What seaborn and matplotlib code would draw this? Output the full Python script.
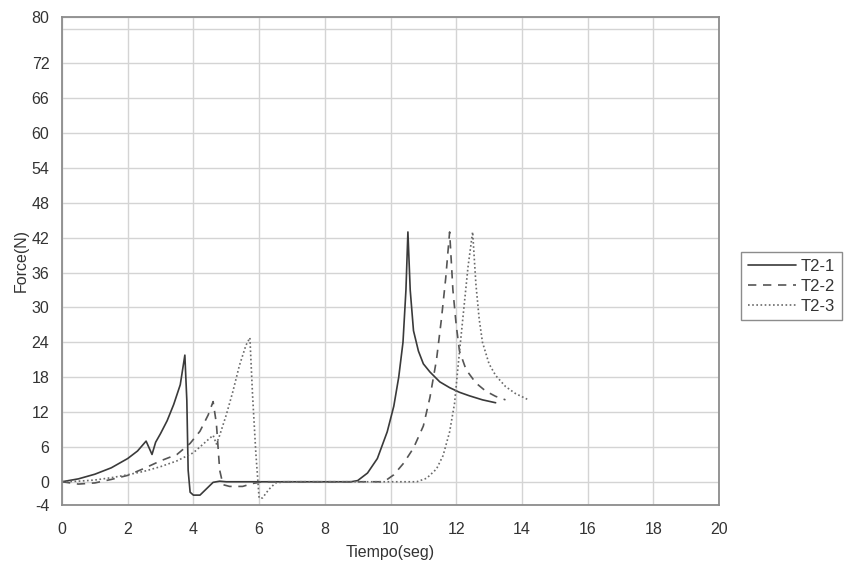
import numpy as np
import pandas as pd
import matplotlib
matplotlib.use("Agg")
import matplotlib.pyplot as plt
import seaborn as sns

# ---- data ----
t1_x = [0, 0.5, 1.0, 1.5, 2.0, 2.3, 2.56, 2.74, 2.85, 3.0, 3.2, 3.4, 3.6, 3.74,
        3.8, 3.84, 3.9, 4.0, 4.2, 4.4, 4.6, 4.8, 5.0, 6, 7, 8, 8.8, 9.0, 9.3,
        9.6, 9.9, 10.1, 10.25, 10.38, 10.47, 10.53, 10.6, 10.7, 10.85, 11.0,
        11.2, 11.5, 11.8, 12.1, 12.4, 12.8, 13.2]
t1_y = [0, 0.5, 1.3, 2.4, 4.0, 5.3, 7.0, 4.7, 6.8, 8.3, 10.5, 13.3, 16.7, 21.8,
        14, 2, -1.8, -2.3, -2.3, -1.2, -0.1, 0.1, 0, 0, 0, 0, 0, 0.2, 1.5,
        4, 8.6, 13, 18, 24, 33, 43, 33, 26, 22.5, 20.3,
        18.9, 17.2, 16.2, 15.4, 14.8, 14.1, 13.6]

t2_x = [0, 0.5, 1.0, 1.5, 2.0, 2.5, 3.0, 3.5, 3.9, 4.2, 4.45, 4.6, 4.7, 4.8,
        4.9, 5.1, 5.5, 5.8, 6.1, 7, 8, 9, 9.8, 10.1, 10.4, 10.7, 11.0, 11.2,
        11.4, 11.55, 11.68, 11.8, 11.9, 12.0, 12.1, 12.3, 12.6, 12.9, 13.2, 13.5]
t2_y = [0, -0.4, -0.2, 0.4, 1.1, 2.3, 3.6, 4.7, 6.6, 8.7, 11.5, 13.8, 10, 2,
        -0.5, -0.8, -0.8, -0.3, 0, 0, 0, 0, 0, 1.2, 3.2, 5.8, 9.6, 14.5,
        21, 28, 35, 43, 33, 27, 22.5, 19.3, 17, 15.6, 14.7, 14.1]

t3_x = [0, 0.5, 1.0, 1.5, 2.0, 2.5, 3.0, 3.5, 4.0, 4.5, 4.6, 4.7, 4.8, 5.0,
        5.2, 5.4, 5.6, 5.72, 5.8, 5.9, 6.0, 6.1, 6.3, 6.5, 6.8, 8, 9, 10, 10.8,
        11.1, 11.4, 11.6, 11.8, 11.95, 12.05, 12.2, 12.36, 12.5, 12.6, 12.7,
        12.8, 13.0, 13.2, 13.5, 13.8, 14.2]
t3_y = [0, 0.1, 0.3, 0.7, 1.2, 1.8, 2.6, 3.6, 5.0, 7.5, 8.0, 6.5, 8, 11.5,
        15.5, 20, 23.5, 24.8, 15, 5, -2.8, -2.8, -1.3, -0.2, 0, 0, 0, 0, 0,
        0.6, 2.2, 4.5, 8.6, 13.5, 19.5, 28, 37, 43, 34, 28,
        24, 20.3, 18.3, 16.4, 15.2, 14.1]

series = ["T2-1", "T2-2", "T2-3"]
y_ticks = [-4, 0, 6, 12, 18, 24, 30, 36, 42, 48, 54, 60, 66, 72, 80]
x_ticks = [0, 2, 4, 6, 8, 10, 12, 14, 16, 18, 20]

df = pd.concat([
    pd.DataFrame({"t": t1_x, "f": t1_y, "serie": series[0]}),
    pd.DataFrame({"t": t2_x, "f": t2_y, "serie": series[1]}),
    pd.DataFrame({"t": t3_x, "f": t3_y, "serie": series[2]}),
])

sns.set_theme(style="whitegrid")
plt.rcParams["font.family"] = ["Liberation Sans", "DejaVu Sans"]
plt.rcParams["axes.unicode_minus"] = False

fig = plt.figure(figsize=(8.44, 5.74), dpi=100)
ax = fig.add_axes([62 / 844, 1 - 505 / 574, (719 - 62) / 844, (505 - 17) / 574])

styles = {"T2-1": ("-", "#3a3a3a"), "T2-2": ((0, (5, 4)), "#555555"),
          "T2-3": ((0, (1, 1.5)), "#6a6a6a")}
for s in series:
    ls, c = styles[s]
    sns.lineplot(data=df[df["serie"] == s], x="t", y="f", ax=ax, sort=False,
                 estimator=None, color=c, linestyle=ls, linewidth=1.2, label=s)

ax.set_xlim(0, 20)
ax.set_ylim(-4, 80)
ax.set_xticks(x_ticks)
ax.set_yticks(y_ticks)
ax.set_yticks([78], minor=True)
ax.grid(True, which="both", color="#d4d4d4", linewidth=1.0)
ax.tick_params(axis="both", which="both", length=0, labelsize=11.5,
               labelcolor="#333333")
ax.tick_params(axis="x", pad=12)
ax.tick_params(axis="y", pad=9)
for sp in ax.spines.values():
    sp.set_color("#8c8c8c")
    sp.set_linewidth(1.3)

ax.set_xlabel("Tiempo(seg)", fontsize=11.5, color="#333333", labelpad=6)
ax.set_ylabel("Force(N)", fontsize=11.5, color="#333333", labelpad=2)

leg = ax.legend(loc="upper left", bbox_to_anchor=(741 / 844, 1 - 252 / 574),
                bbox_transform=fig.transFigure, borderaxespad=0, fancybox=False,
                fontsize=12, handlelength=2.9, handletextpad=0.3,
                labelspacing=0.3, borderpad=0.4, framealpha=1)
leg.get_frame().set_edgecolor("#8c8c8c")
leg.get_frame().set_linewidth(1.0)
for txt in leg.get_texts():
    txt.set_color("#333333")

fig.savefig("out.png", dpi=100)
